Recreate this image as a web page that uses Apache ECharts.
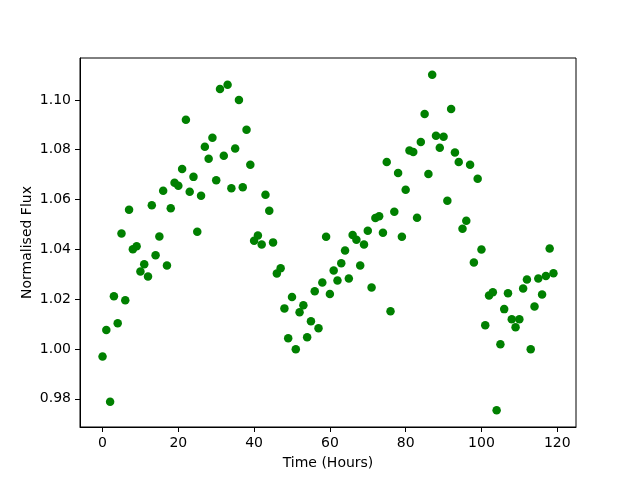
<!DOCTYPE html>
<html>
<head>
<meta charset="utf-8">
<script src="https://cdn.jsdelivr.net/npm/echarts@6/dist/echarts.min.js"></script>
<style>
  html, body { margin: 0; padding: 0; background: #fff; }
  #main { width: 640px; height: 480px; }
</style>
</head>
<body>
<div id="main"></div>
<script>
// observation time in hours
const hours = [
    0, 1, 2, 3, 4, 5, 6, 7, 8, 9, 10, 11, 12, 13, 14, 15, 16, 17, 18, 19,
    20, 21, 22, 23, 24, 25, 26, 27, 28, 29, 30, 31, 32, 33, 34, 35, 36, 37, 38, 39,
    40, 41, 42, 43, 44, 45, 46, 47, 48, 49, 50, 51, 52, 53, 54, 55, 56, 57, 58, 59,
    60, 61, 62, 63, 64, 65, 66, 67, 68, 69, 70, 71, 72, 73, 74, 75, 76, 77, 78, 79,
    80, 81, 82, 83, 84, 85, 86, 87, 88, 89, 90, 91, 92, 93, 94, 95, 96, 97, 98, 99,
    100, 101, 102, 103, 104, 105, 106, 107, 108, 109, 110, 111, 112, 113, 114, 115, 116, 117, 118, 119
];

// normalised flux
const flux = [
    0.9970, 1.0076, 0.9788, 1.0212, 1.0103, 1.0464, 1.0196, 1.0559, 1.0400, 1.0412,
    1.0311, 1.0340, 1.0291, 1.0577, 1.0376, 1.0452, 1.0635, 1.0335, 1.0565, 1.0667,
    1.0655, 1.0723, 1.0920, 1.0631, 1.0691, 1.0471, 1.0615, 1.0812, 1.0764, 1.0848,
    1.0677, 1.1044, 1.0776, 1.1061, 1.0645, 1.0805, 1.1000, 1.0649, 1.0880, 1.0740,
    1.0435, 1.0456, 1.0419, 1.0619, 1.0555, 1.0428, 1.0303, 1.0324, 1.0163, 1.0043,
    1.0209, 0.9999, 1.0147, 1.0176, 1.0047, 1.0111, 1.0232, 1.0083, 1.0267, 1.0451,
    1.0221, 1.0315, 1.0275, 1.0344, 1.0395, 1.0283, 1.0458, 1.0439, 1.0335, 1.0419,
    1.0475, 1.0247, 1.0526, 1.0533, 1.0467, 1.0751, 1.0151, 1.0551, 1.0707, 1.0451,
    1.0639, 1.0797, 1.0791, 1.0527, 1.0831, 1.0943, 1.0703, 1.1101, 1.0856, 1.0808,
    1.0852, 1.0595, 1.0964, 1.0789, 1.0751, 1.0483, 1.0515, 1.0740, 1.0347, 1.0683,
    1.0399, 1.0095, 1.0215, 1.0228, 0.9754, 1.0019, 1.0160, 1.0224, 1.0119, 1.0087,
    1.0119, 1.0243, 1.0279, 0.9999, 1.0171, 1.0283, 1.0219, 1.0293, 1.0403, 1.0304
];

const xTicks = [0, 20, 40, 60, 80, 100, 120];
const yTicks = [0.98, 1.00, 1.02, 1.04, 1.06, 1.08, 1.10];

const FONT = 'DejaVu Sans';
const FS = 14;

const chart = echarts.init(document.getElementById('main'), null, { renderer: 'canvas' });

const axisCommon = {
    axisLine: { show: true, onZero: false, lineStyle: { color: '#000', width: 1 } },
    axisTick: { show: true, length: 5, lineStyle: { color: '#000', width: 1 } },
    splitLine: { show: false },
    nameLocation: 'middle',
    nameMoveOverlap: false,
    nameTextStyle: { fontFamily: FONT, fontSize: FS, color: '#000' }
};

chart.setOption({
    animation: false,
    backgroundColor: '#fff',
    grid: {
        left: 80, right: 64, top: 58, bottom: 53,
        show: true, borderColor: '#000', borderWidth: 1, backgroundColor: 'transparent'
    },
    xAxis: {
        ...axisCommon,
        type: 'value',
        min: -5.95, max: 124.95,
        name: 'Time (Hours)',
        nameGap: 29,
        axisTick: { ...axisCommon.axisTick, customValues: xTicks },
        axisLabel: {
            customValues: xTicks, margin: 9,
            fontFamily: FONT, fontSize: FS, color: '#000',
            formatter: v => String(v)
        }
    },
    yAxis: {
        ...axisCommon,
        type: 'value',
        min: 0.96867, max: 1.11683,
        name: 'Normalised Flux',
        nameGap: 46,
        axisTick: { ...axisCommon.axisTick, customValues: yTicks },
        axisLabel: {
            customValues: yTicks, margin: 9,
            fontFamily: FONT, fontSize: FS, color: '#000',
            formatter: v => v.toFixed(2)
        }
    },
    series: [{
        type: 'scatter',
        symbol: 'circle',
        symbolSize: 8.5,
        itemStyle: { color: '#008000', opacity: 1 },
        data: hours.map((h, i) => [h, flux[i]])
    }]
});
</script>
</body>
</html>
